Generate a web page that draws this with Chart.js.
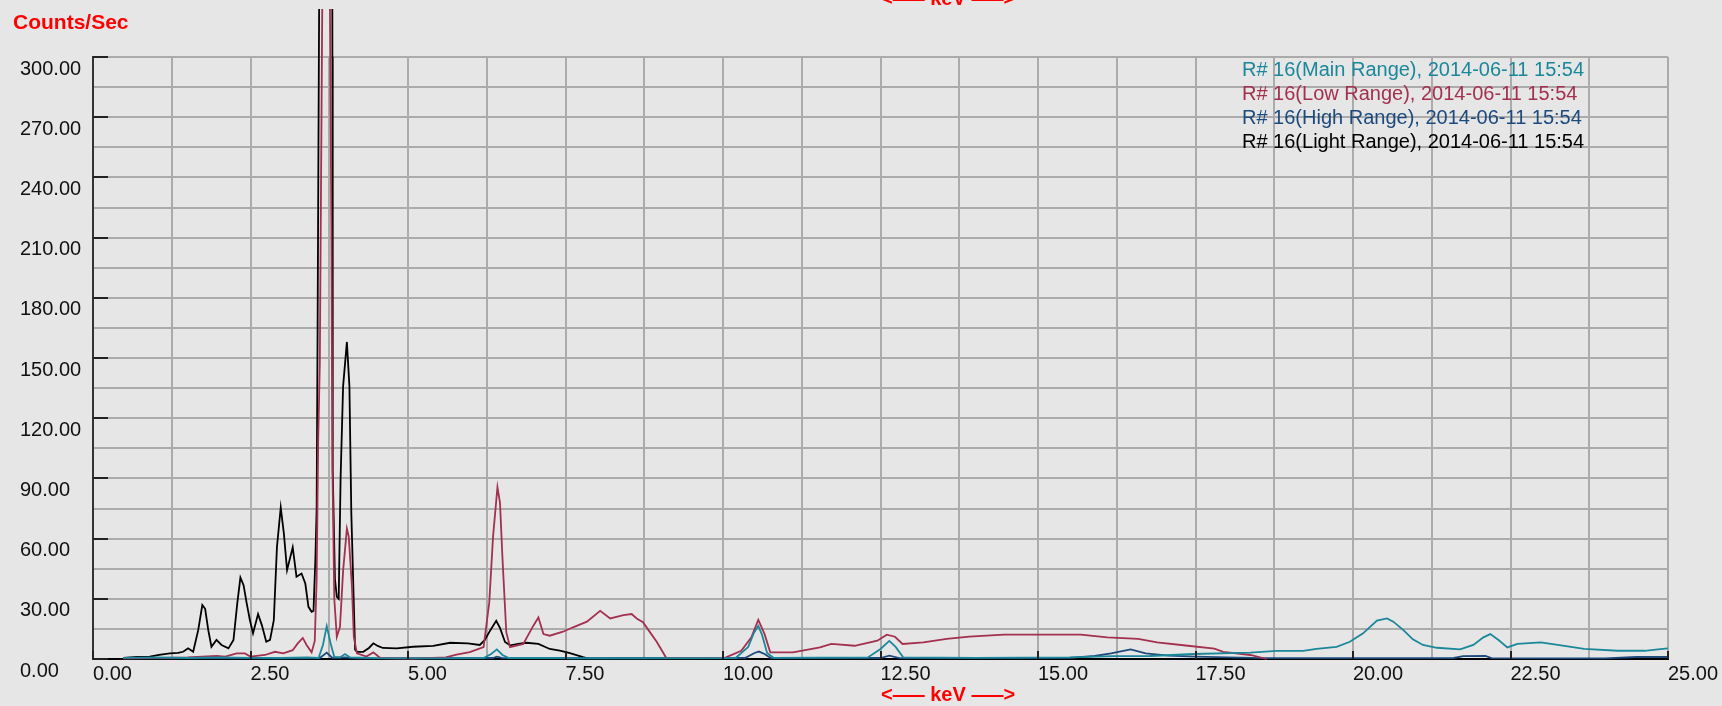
<!DOCTYPE html>
<html>
<head>
<meta charset="utf-8">
<title>Counts/Sec vs keV</title>
<script src="https://cdn.jsdelivr.net/npm/chart.js@4.4.1/dist/chart.umd.min.js"></script>
<style>
  html, body { margin: 0; padding: 0; background: #e6e6e6; }
  #wrap { position: relative; width: 1722px; height: 706px; overflow: hidden; font-family: 'Liberation Sans', Arial, sans-serif; }
  #chart { position: absolute; left: 0; top: 0; }
  .red { position: absolute; color: #ff0000; font-weight: bold; white-space: nowrap; }
  #ytitle { left: 13px; top: 11px; font-size: 21px; line-height: 21px; }
  .kev { left: 881px; font-size: 20px; line-height: 20px; }
  .kev .d { letter-spacing: -8px; }
  #kevTop { top: -12px; }
  #kevBottom { top: 684px; }
  #legend { position: absolute; left: 1242px; top: 57px; font-size: 20px; line-height: 24px; white-space: nowrap; }
</style>
</head>
<body>
<div id="wrap">
  <canvas id="chart" width="1722" height="706"></canvas>
  <div class="red" id="ytitle">Counts/Sec</div>
  <div class="red kev" id="kevTop">&lt;<span class="d">—</span>— keV <span class="d">—</span>—&gt;</div>
  <div class="red kev" id="kevBottom">&lt;<span class="d">—</span>— keV <span class="d">—</span>—&gt;</div>
  <div id="legend"></div>
</div>
<script>
// series names / colours (legend order)
const seriesNames = [
  'R# 16(Main Range), 2014-06-11 15:54',
  'R# 16(Low Range), 2014-06-11 15:54',
  'R# 16(High Range), 2014-06-11 15:54',
  'R# 16(Light Range), 2014-06-11 15:54',
];
const seriesColors = ['#1b879a', '#a3304f', '#1c4a7c', '#000000'];

// Main Range (teal)
const mainKeV = [0.48, 1.00, 1.50, 2.00, 2.50, 3.00, 3.40, 3.58, 3.65, 3.71, 3.77, 3.83, 3.92, 4.00, 4.08, 4.50, 5.50, 6.20, 6.32, 6.41, 6.50, 6.60, 7.20, 7.60, 8.50, 10.20, 10.40, 10.49, 10.56, 10.62, 10.70, 10.80, 12.30, 12.50, 12.64, 12.74, 12.86, 14.00, 15.50, 16.20, 16.78, 17.47, 18.37, 18.79, 19.21, 19.42, 19.74, 19.95, 20.16, 20.38, 20.54, 20.64, 20.80, 20.95, 21.11, 21.33, 21.70, 21.91, 22.07, 22.18, 22.31, 22.45, 22.61, 22.98, 23.25, 23.67, 24.20, 24.63, 24.84, 25.00];
const mainCps = [0.6, 0.8, 0.5, 0.8, 0.6, 0.5, 0.8, 0.5, 7.0, 16.4, 8.0, 1.0, 0.8, 2.5, 0.8, 0.4, 0.3, 0.5, 2.5, 4.8, 2.0, 0.5, 0.6, 0.3, 0.3, 0.5, 6.0, 13.0, 16.5, 12.0, 3.0, 0.6, 0.8, 5.0, 9.0, 6.0, 0.8, 0.6, 0.8, 1.4, 1.5, 2.5, 3.2, 4.0, 4.0, 5.0, 6.0, 8.6, 12.8, 19.1, 20.2, 18.6, 14.4, 9.8, 7.0, 5.6, 4.8, 7.0, 10.8, 12.4, 9.5, 5.8, 7.5, 8.3, 7.0, 5.0, 4.1, 4.1, 4.8, 5.3];

// Low Range (maroon)
const lowKeV = [0.48, 0.90, 1.50, 1.96, 2.10, 2.28, 2.41, 2.50, 2.73, 2.89, 3.02, 3.17, 3.25, 3.33, 3.39, 3.47, 3.52, 3.55, 3.575, 3.60, 3.64, 3.70, 3.76, 3.77, 3.785, 3.80, 3.83, 3.87, 3.92, 3.97, 4.03, 4.06, 4.11, 4.14, 4.19, 4.34, 4.45, 4.56, 5.08, 5.60, 5.77, 5.98, 6.20, 6.29, 6.35, 6.42, 6.46, 6.50, 6.56, 6.62, 6.83, 6.99, 7.07, 7.15, 7.25, 7.46, 7.62, 7.84, 8.05, 8.21, 8.42, 8.55, 8.63, 8.73, 8.84, 8.95, 9.10, 10.02, 10.29, 10.45, 10.56, 10.66, 10.75, 11.11, 11.54, 11.72, 12.09, 12.45, 12.60, 12.73, 12.85, 13.18, 13.55, 13.91, 14.46, 15.07, 15.68, 16.10, 16.59, 16.89, 17.38, 17.80, 17.94, 18.37, 18.63];
const lowCps = [0.3, 0.4, 0.8, 1.5, 1.2, 2.8, 2.8, 1.2, 2.0, 3.6, 2.8, 4.4, 7.8, 10.5, 7.0, 3.3, 9.0, 40, 110, 147, 330, 700, 330, 280, 209, 96, 30, 11, 16, 44, 65, 61, 36, 11, 2.8, 1.2, 3.3, 0.5, 0.2, 0.8, 2.2, 3.4, 5.9, 28.2, 61, 85.6, 78, 50, 13.4, 5.9, 7.5, 16.6, 20.7, 12.4, 11.6, 13.6, 15.8, 18.6, 24.0, 20.2, 21.9, 22.4, 20.2, 18.3, 13.4, 8.5, 0.5, 0.5, 4.1, 10.8, 19.5, 12.4, 3.3, 3.3, 5.8, 7.5, 6.6, 9.1, 12.1, 11.1, 7.5, 8.3, 10.0, 11.1, 12.1, 12.1, 12.1, 10.8, 10.0, 8.3, 6.6, 5.2, 3.6, 2.0, 0];

// High Range (dark blue)
const highKeV = [0.48, 2.00, 3.00, 3.60, 3.71, 3.80, 4.00, 4.20, 6.35, 6.41, 6.50, 10.35, 10.50, 10.57, 10.66, 10.76, 12.50, 12.64, 12.80, 15.50, 15.90, 16.16, 16.47, 16.71, 17.07, 17.50, 18.00, 18.60, 21.60, 21.75, 22.10, 22.20, 24.00, 24.50, 25.00];
const highCps = [0.3, 0.5, 0.3, 0.5, 3.2, 0.5, 0.8, 0.3, 0.5, 1.2, 0.4, 0.5, 3.0, 3.7, 2.5, 0.4, 0.5, 1.7, 0.4, 0.6, 1.5, 2.8, 4.8, 2.8, 1.7, 1.2, 0.8, 0.4, 0.5, 1.4, 1.5, 0.4, 0.3, 1.0, 1.0];

// Light Range (black)
const lightKeV = [0.48, 0.70, 0.90, 1.05, 1.22, 1.35, 1.43, 1.51, 1.59, 1.67, 1.735, 1.78, 1.83, 1.88, 1.96, 2.04, 2.15, 2.23, 2.29, 2.34, 2.39, 2.44, 2.49, 2.54, 2.62, 2.68, 2.75, 2.81, 2.87, 2.92, 2.98, 3.03, 3.08, 3.17, 3.23, 3.31, 3.37, 3.42, 3.47, 3.50, 3.53, 3.55, 3.565, 3.59, 3.60, 3.69, 3.79, 3.80, 3.805, 3.84, 3.87, 3.90, 3.93, 3.97, 4.03, 4.07, 4.10, 4.16, 4.19, 4.29, 4.38, 4.45, 4.52, 4.60, 4.82, 5.08, 5.40, 5.67, 5.95, 6.14, 6.22, 6.30, 6.40, 6.46, 6.54, 6.62, 6.75, 6.88, 7.07, 7.25, 7.41, 7.57, 7.78, 7.89, 8.00];
const lightCps = [0.5, 1.0, 1.2, 2.0, 2.8, 3.0, 3.6, 5.3, 3.6, 14.4, 26.9, 25.0, 14.4, 6.1, 9.5, 7.0, 5.3, 9.5, 27.7, 40.6, 36.8, 27.7, 19.4, 12.8, 22.4, 16.9, 8.6, 9.5, 19.4, 55.9, 75.5, 62.5, 44.3, 55.6, 41.0, 42.6, 37.6, 26.0, 23.5, 24.0, 50, 75, 164, 330, 420, 700, 500, 300, 94, 40, 31, 30, 90, 136, 158, 136, 73, 4.7, 3.6, 3.6, 5.5, 7.8, 6.5, 5.5, 5.3, 6.1, 6.5, 8.1, 7.8, 7.0, 9.5, 14.0, 19.0, 15.5, 8.5, 6.8, 7.5, 8.1, 7.5, 5.0, 4.2, 2.9, 0.9, 0, 0];

// axis ticks: grid every 15 / 1.25, labels every 30 / 2.5
const yStep = 15, yLabelEvery = 30, yMax = 300;
const xStep = 1.25, xLabelEvery = 2.5, xMax = 25;

const toPoints = (xs, ys) => xs.map((x, i) => ({ x: x, y: ys[i] }));
const seriesData = [
  toPoints(mainKeV, mainCps),
  toPoints(lowKeV, lowCps),
  toPoints(highKeV, highCps),
  toPoints(lightKeV, lightCps),
];

// legend as plain text, top right of the plot
const legendBox = document.getElementById('legend');
seriesNames.forEach((name, i) => {
  const row = document.createElement('div');
  row.textContent = name;
  row.style.color = seriesColors[i];
  legendBox.appendChild(row);
});

// short tick marks pointing into the plot at labelled values
const innerTicks = {
  id: 'innerTicks',
  afterDraw(chart) {
    const { ctx, chartArea, scales } = chart;
    ctx.save();
    ctx.strokeStyle = '#222';
    ctx.lineWidth = 2;
    ctx.beginPath();
    scales.y.ticks.forEach((t) => {
      if (t.value % yLabelEvery !== 0) return;
      const py = Math.round(scales.y.getPixelForValue(t.value));
      ctx.moveTo(chartArea.left, py);
      ctx.lineTo(chartArea.left + 15, py);
    });
    scales.x.ticks.forEach((t) => {
      if (t.value % xLabelEvery !== 0) return;
      const px = Math.round(scales.x.getPixelForValue(t.value));
      ctx.moveTo(px, chartArea.bottom);
      ctx.lineTo(px, chartArea.bottom - 8);
    });
    ctx.stroke();
    ctx.restore();
  },
};

const tickFont = { family: "'Liberation Sans', Arial, sans-serif", size: 20 };

new Chart(document.getElementById('chart'), {
  type: 'line',
  data: {
    datasets: seriesData.map((pts, i) => ({
      label: seriesNames[i],
      data: pts,
      borderColor: seriesColors[i],
      borderWidth: 1.8,
      pointRadius: 0,
      tension: 0,
      fill: false,
      clip: { left: 0, top: 48, right: 0, bottom: 1 },
    })),
  },
  options: {
    responsive: false,
    animation: false,
    devicePixelRatio: 1,
    layout: { padding: { left: 20, right: 54, top: 57, bottom: 17 } },
    plugins: {
      legend: { display: false },
      tooltip: { enabled: false },
    },
    scales: {
      x: {
        type: 'linear',
        min: 0,
        max: xMax,
        afterFit: (scale) => {
          scale.height = 30;
          scale.paddingLeft = 0;
          scale.paddingRight = 0;
        },
        grid: { color: '#ababab', lineWidth: 2, drawTicks: false },
        border: { color: '#000', width: 2 },
        ticks: {
          stepSize: xStep,
          autoSkip: false,
          maxRotation: 0,
          minRotation: 0,
          align: 'start',
          padding: 3,
          color: '#111',
          font: tickFont,
          callback: (v) => (v % xLabelEvery === 0 ? v.toFixed(2) : ''),
        },
      },
      y: {
        type: 'linear',
        min: 0,
        max: yMax,
        afterFit: (scale) => {
          scale.width = 73;
          scale.paddingTop = 0;
          scale.paddingBottom = 0;
        },
        grid: { color: '#ababab', lineWidth: 2, drawTicks: false },
        border: { color: '#333', width: 2 },
        ticks: {
          stepSize: yStep,
          autoSkip: false,
          crossAlign: 'far',
          labelOffset: 12,
          color: '#111',
          font: tickFont,
          callback: (v) => (v % yLabelEvery === 0 ? v.toFixed(2) : ''),
        },
      },
    },
  },
  plugins: [innerTicks],
});
</script>
</body>
</html>
